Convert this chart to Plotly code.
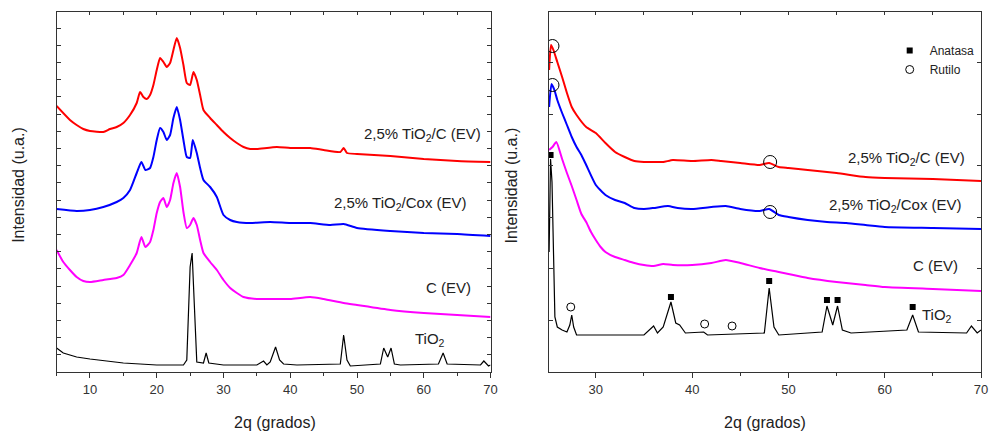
import plotly.graph_objects as go

# ---------------- Data (left panel) ----------------
L_red_x = [5, 7, 8, 9, 10, 12, 13, 14, 15, 16, 17, 17.5, 18, 18.5, 19, 19.5, 20, 20.5, 21, 21.5, 22, 22.5, 23, 23.5, 24, 24.5, 25, 25.5, 26, 26.5, 27, 28, 29, 30, 31, 32, 33, 34, 35, 38, 40, 43, 45, 47.5, 48, 48.5, 50, 55, 60, 65, 70]
L_red_y = [266, 252, 247, 243, 241, 240, 243, 245, 249, 257, 269, 280, 275, 273, 277, 287, 302, 314, 310, 305, 309, 322, 334, 324, 307, 289, 287, 300, 292, 277, 262, 254, 247, 240, 234, 229, 225, 223, 223, 225, 224, 224, 222, 220, 224, 219, 218, 216, 213, 211, 210]

L_blue_x = [5, 8, 10, 12, 14, 15, 16, 17, 17.7, 18.3, 19, 19.5, 20, 20.5, 21, 21.5, 22, 22.5, 23, 23.5, 24, 24.5, 25, 25.4, 26, 26.5, 27, 28, 29, 30, 31, 32, 34, 37, 40, 43, 46, 48, 50, 55, 60, 65, 70]
L_blue_y = [163, 161, 162, 165, 170, 174, 182, 199, 210, 202, 204, 215, 232, 244, 240, 232, 237, 254, 265, 252, 232, 215, 214, 232, 219, 204, 192, 185, 175, 157, 152, 150, 149, 150, 149, 149, 147, 148, 144, 141, 139, 138, 136]

L_mag_x = [5, 6, 7, 8, 9, 10, 12, 14, 15, 16, 17, 17.7, 18.3, 19, 19.5, 20, 20.5, 21, 21.5, 22, 22.5, 23, 23.5, 24, 24.5, 25, 25.5, 26, 26.5, 27, 28, 29, 30, 31, 32, 33, 35, 38, 40, 43, 45, 48, 50, 55, 60, 65, 70]
L_mag_y = [122, 110, 102, 95, 91, 90, 92, 94, 97, 107, 119, 135, 125, 130, 142, 159, 170, 174, 165, 172, 189, 199, 185, 160, 144, 147, 154, 147, 132, 119, 110, 102, 92, 84, 79, 75, 73, 73, 73, 75, 73, 69, 67, 62, 59, 57, 55]

L_blk_x = [5, 6, 8, 10, 15, 20, 24, 24.5, 25, 25.3, 25.6, 26, 27, 27.4, 27.8, 30, 35, 36, 36.5, 37, 37.8, 38.4, 39, 41, 47.5, 48, 48.5, 49, 53.5, 54, 54.6, 55.1, 55.6, 56.5, 62.2, 62.9, 63.5, 68.5, 69, 69.7, 70]
L_blk_y = [24, 19, 15, 13, 9, 7, 7, 12, 105, 119, 72, 10, 9, 19, 9, 7, 7, 11, 7, 10, 25, 12, 8, 7, 8, 37, 12, 6, 8, 24, 15, 24, 8, 7, 8, 19, 8, 7, 11, 6, 7]

# ---------------- Data (right panel) ----------------
R_red_x = [25.15, 25.35, 25.6, 26, 26.5, 27, 27.5, 28, 29, 30, 31, 32, 33, 34, 35, 36, 37, 38, 40, 42, 43, 45, 47, 48, 49, 50, 52, 55, 58, 60, 65, 70]
R_red_y = [302, 327, 322, 310, 295, 279, 265, 257, 245, 239, 229, 220, 215, 211, 210, 210, 210, 212, 211, 212, 211, 209, 207, 209, 205, 204, 202, 199, 195, 194, 193, 191]

R_blue_x = [25.15, 25.4, 25.7, 26, 26.5, 27, 27.5, 28, 28.5, 29, 30, 31, 32, 33, 34, 35, 36, 37.5, 38.5, 40, 42, 43.5, 45, 47, 48, 49, 50, 52, 54, 56, 58, 60, 65, 70]
R_blue_y = [265, 288, 282, 272, 259, 247, 235, 225, 217, 207, 187, 177, 172, 169, 164, 163, 164, 166, 164, 163, 165, 166, 163, 161, 163, 157, 155, 152, 150, 149, 147, 145, 144, 143]

R_mag_x = [25.15, 25.5, 25.9, 26.5, 27, 27.5, 28, 28.5, 29, 29.5, 30, 30.5, 31, 32, 33, 34, 35, 36, 37, 38, 40, 42, 43.5, 45, 47, 49, 50, 52, 55, 58, 60, 65, 70]
R_mag_y = [222, 225, 230, 213, 199, 186, 172, 158, 150, 140, 132, 125, 120, 115, 112, 109, 107, 106, 108, 107, 107, 109, 112, 109, 104, 100, 98, 94, 90, 87, 85, 83, 81]

R_blk_x = [25.15, 25.3, 25.45, 25.6, 25.75, 26, 26.5, 27, 27.3, 27.5, 27.7, 28, 35, 36, 36.4, 37, 37.8, 38.3, 38.7, 39.3, 41.2, 41.6, 47.5, 48, 48.5, 49, 53.5, 54, 54.6, 55.1, 55.6, 56.5, 62.3, 62.9, 63.5, 68.5, 69, 69.6, 70]
R_blk_y = [120, 213, 190, 120, 55, 45, 42, 40, 47, 57, 45, 37, 37, 46, 39, 45, 70, 49, 47, 39, 40, 37, 39, 84, 45, 37, 40, 66, 47, 66, 42, 39, 42, 57, 40, 39, 46, 39, 42]

# phase markers (right panel)
anatasa_x = [25.3, 37.8, 48.0, 54.0, 55.1, 62.9]
anatasa_y = [217, 75, 91, 72, 72, 65]
rutilo_small_x = [27.4, 41.3, 44.15]
rutilo_small_y = [65, 48, 46]
rutilo_big_x = [25.5, 25.5, 48.1, 48.1]
rutilo_big_y = [326, 287, 210, 160]

RED, BLUE, MAG, BLK = "#ff0000", "#0000ff", "#ff00ff", "#000000"

W, H = 995, 435
def px(x):
    return x / W
def py(y):
    return 1 - y / H

fig = go.Figure()

def line(x, y, color, xa, ya, width=2.0, shape="spline"):
    fig.add_trace(go.Scatter(x=x, y=y, mode="lines",
                             line=dict(color=color, width=width, shape=shape, smoothing=0.5),
                             xaxis=xa, yaxis=ya, showlegend=False, hoverinfo="skip"))

line(L_red_x, L_red_y, RED, "x", "y")
line(L_blue_x, L_blue_y, BLUE, "x", "y")
line(L_mag_x, L_mag_y, MAG, "x", "y")
line(L_blk_x, L_blk_y, BLK, "x", "y", 1.2, "linear")

line(R_red_x, R_red_y, RED, "x2", "y2")
line(R_blue_x, R_blue_y, BLUE, "x2", "y2")
line(R_mag_x, R_mag_y, MAG, "x2", "y2")
line(R_blk_x, R_blk_y, BLK, "x2", "y2", 1.2, "linear")

fig.add_trace(go.Scatter(x=anatasa_x, y=anatasa_y, mode="markers", name="Anatasa",
                         marker=dict(symbol="square", size=6, color="black"),
                         xaxis="x2", yaxis="y2", hoverinfo="skip"))
fig.add_trace(go.Scatter(x=rutilo_small_x, y=rutilo_small_y, mode="markers", name="Rutilo",
                         marker=dict(symbol="circle-open", size=8, color="black", line=dict(width=1)),
                         xaxis="x2", yaxis="y2", hoverinfo="skip"))
fig.add_trace(go.Scatter(x=rutilo_big_x, y=rutilo_big_y, mode="markers", showlegend=False,
                         marker=dict(symbol="circle-open", size=13, color="black", line=dict(width=1)),
                         xaxis="x2", yaxis="y2", hoverinfo="skip"))

# invisible traces for top mirror axes
fig.add_trace(go.Scatter(x=[5], y=[0], mode="markers", marker=dict(opacity=0), xaxis="x3", yaxis="y", showlegend=False, hoverinfo="skip"))
fig.add_trace(go.Scatter(x=[30], y=[0], mode="markers", marker=dict(opacity=0), xaxis="x4", yaxis="y2", showlegend=False, hoverinfo="skip"))

axcol = "#333333"
tickfont = dict(family="Liberation Sans, Arial, sans-serif", size=13, color="#333333")
dx1 = [px(57), px(494)]
dx2 = [px(553), px(988)]
dy = [py(372), py(12)]

def xax(domain, rng, tickvals, anchor):
    return dict(domain=domain, range=rng, anchor=anchor, showgrid=False, zeroline=False,
                showline=True, linecolor=axcol, linewidth=1, ticks="outside", ticklen=5,
                tickcolor=axcol, tickvals=tickvals, tickfont=tickfont,
                minor=dict(ticks="outside", ticklen=3, dtick=5, tick0=0, tickcolor=axcol))

def topax(rng, overlay, anchor):
    return dict(overlaying=overlay, side="top", range=rng, anchor=anchor, showgrid=False,
                zeroline=False, showline=True, linecolor=axcol, ticks="inside", ticklen=3,
                tickcolor=axcol, dtick=5, tick0=0, showticklabels=False)

def yax(domain, dtick, anchor):
    return dict(domain=domain, range=[0, 360], anchor=anchor, showgrid=False, zeroline=False,
                showline=True, linecolor=axcol, linewidth=1, mirror="ticks", ticks="inside",
                ticklen=4, tickcolor=axcol, tick0=0, dtick=dtick, showticklabels=False)

fig.update_layout(
    width=W, height=H, margin=dict(l=0, r=0, t=0, b=0),
    paper_bgcolor="white", plot_bgcolor="white",
    font=dict(family="Liberation Sans, Arial, sans-serif", color="#222222"),
    xaxis=xax(dx1, [5, 70], [10, 20, 30, 40, 50, 60, 70], "y"),
    yaxis=yax(dy, 17.2, "x"),
    xaxis2=xax(dx2, [25.15, 70], [30, 40, 50, 60, 70], "y2"),
    yaxis2=yax(dy, 51.6, "x2"),
    xaxis3=topax([5, 70], "x", "y"),
    xaxis4=topax([25.15, 70], "x2", "y2"),
    showlegend=True,
    legend=dict(x=px(896), y=py(36), xanchor="left", yanchor="top",
                font=dict(size=12, color="#222222"), itemwidth=30, tracegroupgap=0,
                bgcolor="rgba(0,0,0,0)"),
)

lab = dict(family="Liberation Sans, Arial, sans-serif", size=15, color="#222222")
annots = [
    ("2,5% TiO<sub>2</sub>/C (EV)", 486, 135, "right"),
    ("2,5% TiO<sub>2</sub>/Cox (EV)", 472, 203, "right"),
    ("C (EV)", 476, 287, "right"),
    ("TiO<sub>2</sub>", 416, 339, "left"),
    ("2,5% TiO<sub>2</sub>/C (EV)", 974, 158, "right"),
    ("2,5% TiO<sub>2</sub>/Cox (EV)", 971, 205, "right"),
    ("C (EV)", 967, 265, "right"),
    ("TiO<sub>2</sub>", 927, 315, "left"),
]
for t, x, y, anc in annots:
    fig.add_annotation(text=t, x=px(x), y=py(y), xref="paper", yref="paper",
                       xanchor=anc, yanchor="middle", showarrow=False, font=lab)

titlefont = dict(family="Liberation Sans, Arial, sans-serif", size=16, color="#222222")
for x in (277, 770):
    fig.add_annotation(text="2q (grados)", x=px(x), y=py(422), xref="paper", yref="paper",
                       xanchor="center", yanchor="middle", showarrow=False, font=titlefont)
for x in (18, 515):
    fig.add_annotation(text="Intensidad (u.a.)", x=px(x), y=py(185), xref="paper", yref="paper",
                       xanchor="center", yanchor="middle", showarrow=False, textangle=-90, font=titlefont)

fig.write_html("out.html")
